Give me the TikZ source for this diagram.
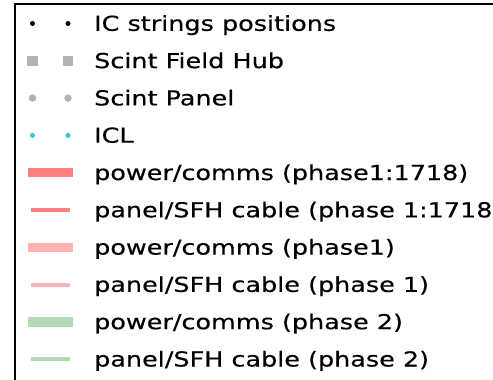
\documentclass[tikz,border=0pt]{standalone}
\usepackage{fontspec}
\setmainfont{DejaVu Sans}[FakeStretch=1.236, FakeBold=0.4]
\definecolor{phaseA}{RGB}{255,128,128}
\definecolor{phaseB}{RGB}{255,179,179}
\definecolor{phaseC}{RGB}{179,218,179}
\definecolor{hubgrey}{RGB}{179,179,179}
\definecolor{panelgrey}{RGB}{178,178,178}
\definecolor{iclcyan}{RGB}{51,201,201}
\tikzset{
  icdot/.style={circle, fill=black, inner sep=0pt, minimum size=5pt},
  hubsq/.style={rectangle, fill=hubgrey, inner sep=0pt, minimum size=10.5pt},
  paneldot/.style={circle, fill=panelgrey, inner sep=0pt, minimum size=7.5pt},
  icldot/.style={circle, fill=iclcyan, inner sep=0pt, minimum size=5pt},
  thickcable/.style={line width=9.5pt},
  thincable/.style={line width=4pt},
  entry/.style={anchor=base west, inner sep=0pt, text=black,
    font=\fontsize{20.6}{24}\selectfont},
}
\begin{document}
\begin{tikzpicture}[x=1pt, y=-1pt]
  \useasboundingbox (0,0) rectangle (493,380);
  \clip (0,0) rectangle (493,380);
  % legend frame (runs past the right and bottom edges)
  \draw[line width=2.8pt] (15,4) rectangle (620,480);

  % point markers
  \node[icdot] (m1a) at (32.5,23.5) {};
  \node[icdot] (m1b) at (68,23.5) {};
  \node[hubsq] (m2a) at (32.5,60.8) {};
  \node[hubsq] (m2b) at (68,60.8) {};
  \node[paneldot] (m3a) at (32.5,98.1) {};
  \node[paneldot] (m3b) at (68,98.1) {};
  \node[icldot] (m4a) at (32.5,135.4) {};
  \node[icldot] (m4b) at (68,135.4) {};

  % cable samples
  \coordinate (c5a) at (27.7,172.7); \coordinate (c5b) at (73,172.7);
  \coordinate (c6a) at (31,210);     \coordinate (c6b) at (70,210);
  \coordinate (c7a) at (27.7,247.3); \coordinate (c7b) at (73,247.3);
  \coordinate (c8a) at (31,284.6);   \coordinate (c8b) at (70,284.6);
  \coordinate (c9a) at (27.7,321.9); \coordinate (c9b) at (73,321.9);
  \coordinate (c10a) at (31,359.2);  \coordinate (c10b) at (70,359.2);
  \draw[thickcable, phaseA] (c5a) -- (c5b);
  \draw[thincable, phaseA] (c6a) -- (c6b);
  \draw[thickcable, phaseB] (c7a) -- (c7b);
  \draw[thincable, phaseB] (c8a) -- (c8b);
  \draw[thickcable, phaseC] (c9a) -- (c9b);
  \draw[thincable, phaseC] (c10a) -- (c10b);

  % entry texts
  \node[entry] (t1) at (94,30.8) {IC strings positions};
  \node[entry] (t2) at (94,68.1) {Scint Field Hub};
  \node[entry] (t3) at (94,105.4) {Scint Panel};
  \node[entry] (t4) at (94,142.7) {ICL};
  \node[entry] (t5) at (94,180.0) {power/comms (phase1:1718)};
  \node[entry] (t6) at (94,217.3) {panel/SFH cable (phase 1:1718)};
  \node[entry] (t7) at (94,254.6) {power/comms (phase1)};
  \node[entry] (t8) at (94,291.9) {panel/SFH cable (phase 1)};
  \node[entry] (t9) at (94,329.2) {power/comms (phase 2)};
  \node[entry] (t10) at (94,366.5) {panel/SFH cable (phase 2)};
\end{tikzpicture}
\end{document}
